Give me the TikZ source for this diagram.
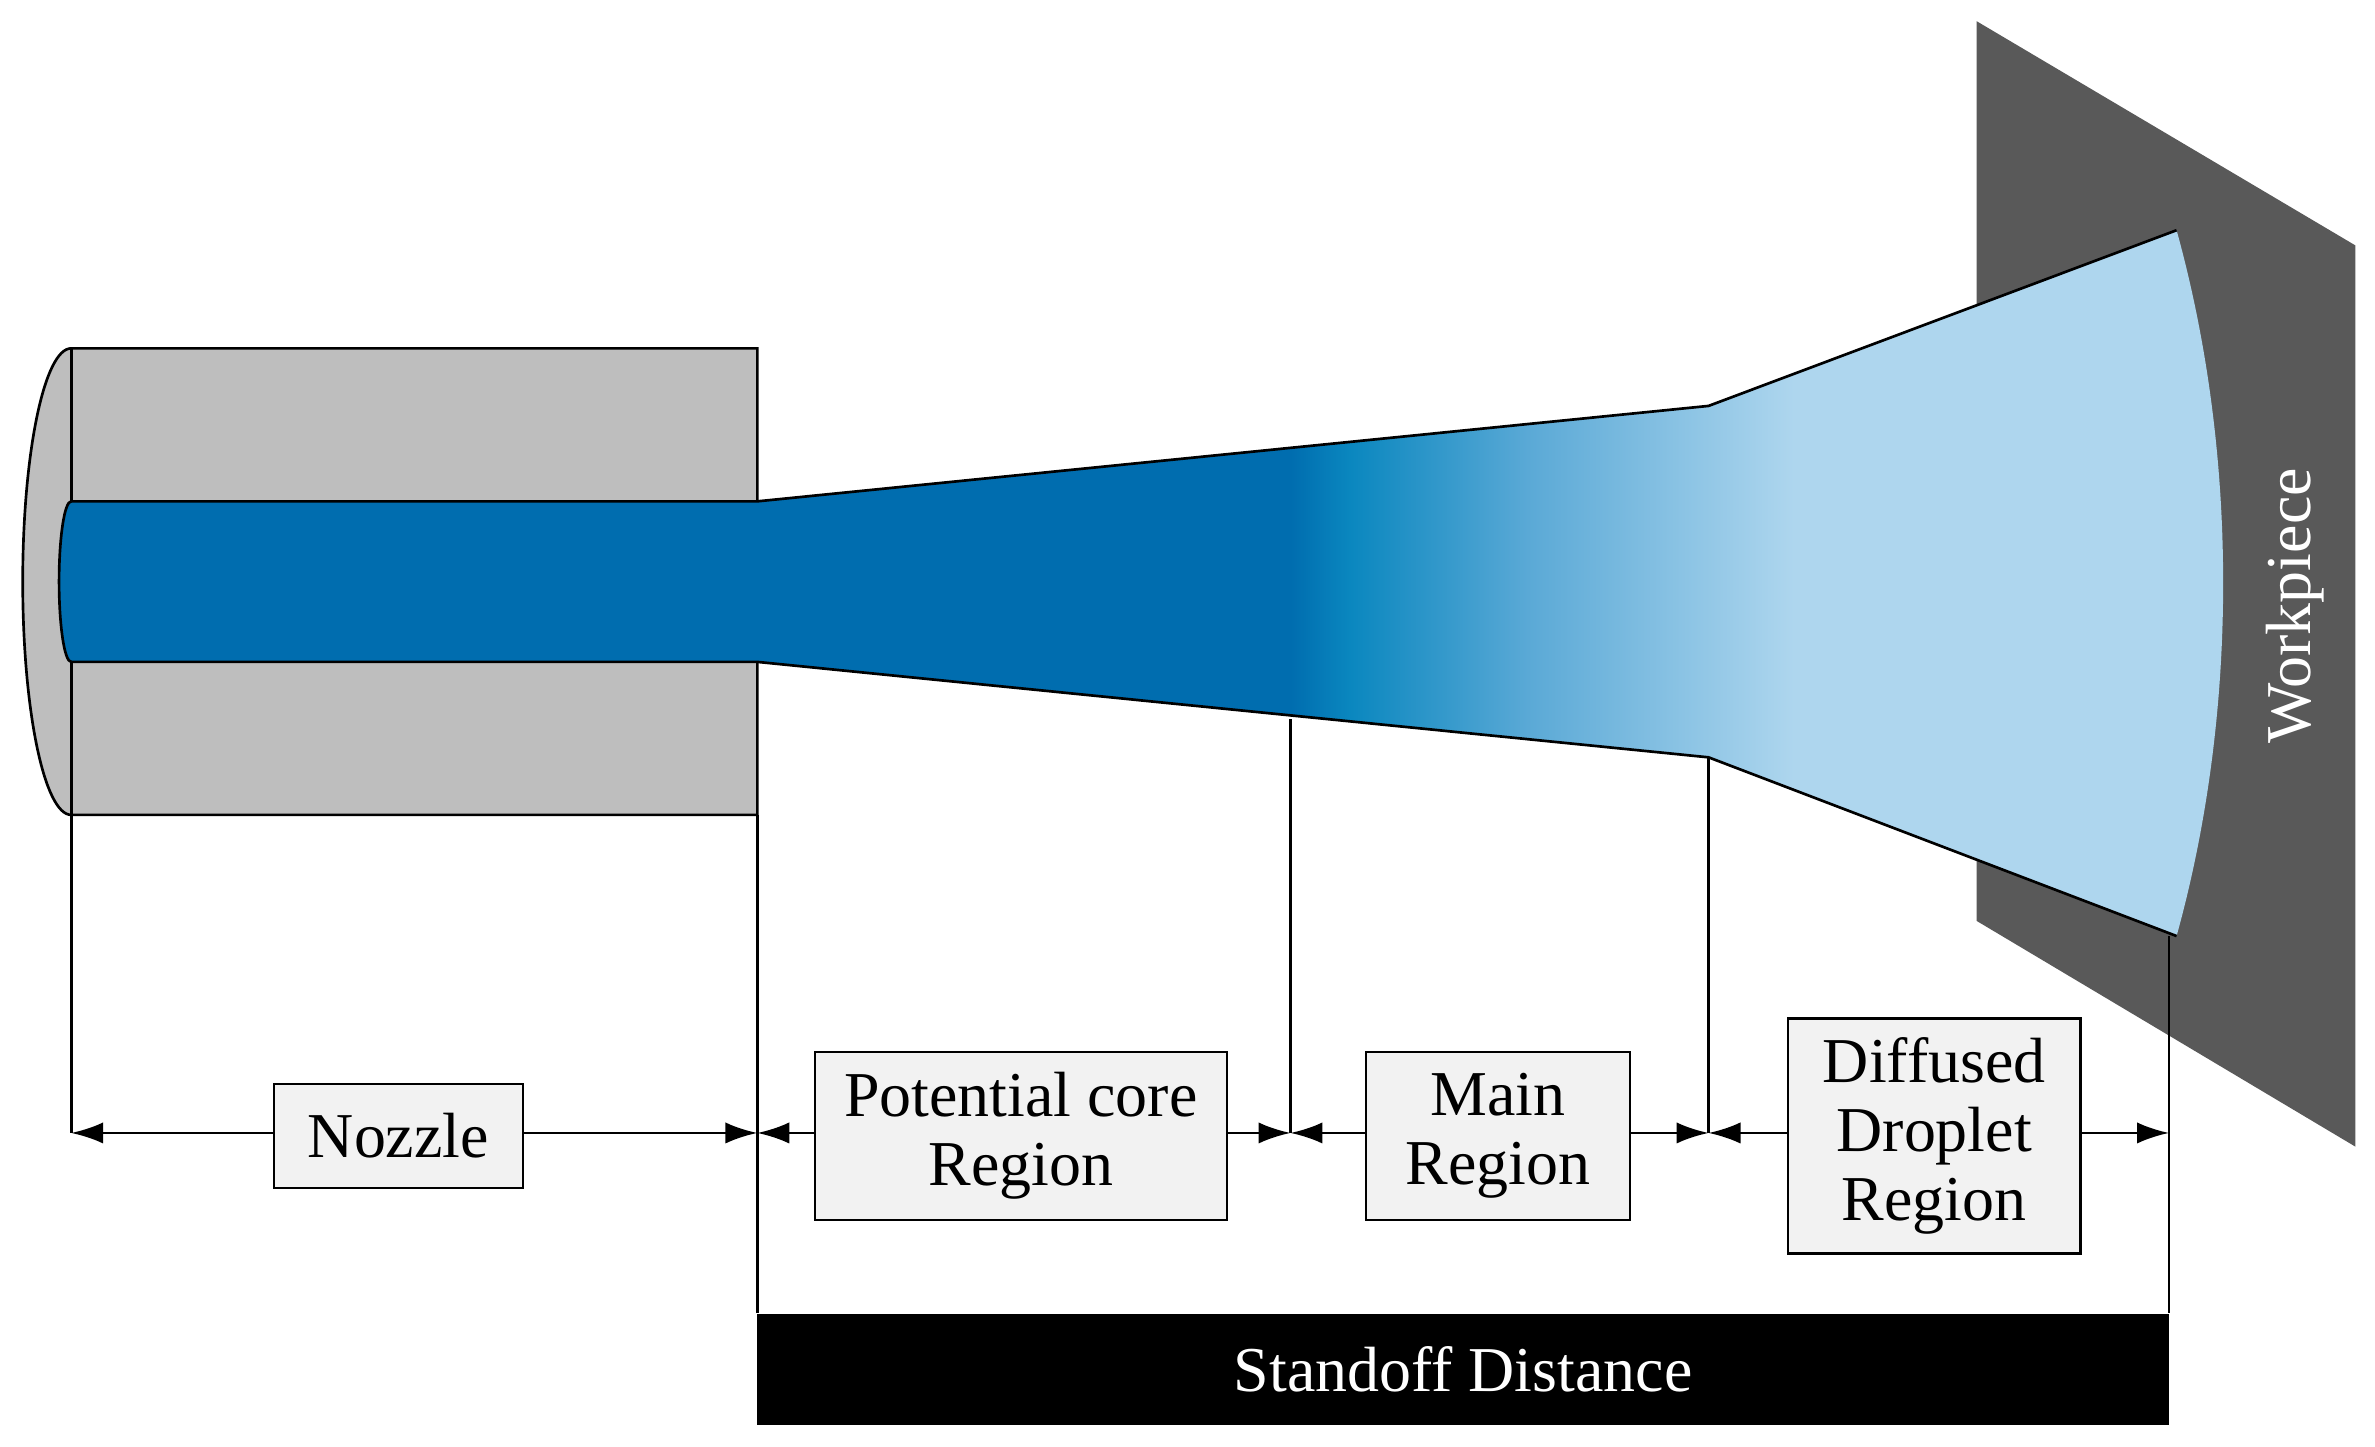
\documentclass[tikz,border=0pt]{standalone}
\usepackage{fontspec}
\setmainfont{Liberation Serif}
\usetikzlibrary{arrows.meta}
\definecolor{jd}{HTML}{006DAF}
\definecolor{jm}{HTML}{0A87BF}
\definecolor{jl1}{HTML}{5AA9D6}
\definecolor{jl}{HTML}{AED6EE}
\definecolor{boxfill}{HTML}{F2F2F2}
\definecolor{wp}{HTML}{595959}
\definecolor{noz}{HTML}{BEBEBE}
\pgfdeclarehorizontalshading{jet}{100bp}{
 color(0bp)=(jd); color(43bp)=(jd); color(45bp)=(jm); color(51bp)=(jl1); color(60bp)=(jl); color(100bp)=(jl)}
\begin{document}
\begin{tikzpicture}[x=0.01cm,y=-0.01cm,
 lbl/.style={draw,fill=boxfill,align=center,font=\fontsize{12}{13}\selectfont,inner sep=0pt},
 dim/.style={{Latex[length=6pt,width=4pt]}-{Latex[length=6pt,width=4pt]},line width=0.5pt},
 thin/.style={line width=0.5pt}]
\useasboundingbox (0,0) rectangle (1568,955);
% workpiece
\fill[wp] (1305,14) -- (1555,162) -- (1555,757) -- (1305,608) -- cycle;
\node[rotate=90,text=white,font=\fontsize{12}{13}\selectfont] (wpt) at (1515,400) {Workpiece};
% nozzle
\draw[thin,fill=noz] (47,230) arc[start angle=-90,end angle=-270,x radius=32,y radius=154] -- (500,538) -- (500,230) -- cycle;
\draw[thin] (47,230) -- (47,538);
% jet
\shade[shading=jet] (500,331) -- (1128,268) -- (1437,152) .. controls (1478,300) and (1478,470) .. (1437,618) -- (1128,500) -- (500,437) -- cycle;
\fill[jd] (47,331) rectangle (500,437);
\draw[thin] (47,331) -- (500,331) -- (1128,268) -- (1437,152);
\draw[thin] (47,437) -- (500,437) -- (1128,500) -- (1437,618);
\fill[jd] (47,331) arc[start angle=-90,end angle=-270,x radius=8,y radius=53];
\draw[thin] (47,331) arc[start angle=-90,end angle=-270,x radius=8,y radius=53];
% vertical lines
\coordinate (a0) at (47,748); \coordinate (a1) at (500,748); \coordinate (a2) at (852,748);
\coordinate (a3) at (1128,748); \coordinate (a4) at (1432,748);
\draw[thin] (47,538) -- (a0);
\draw[thin] (500,538) -- (500,867);
\draw[thin] (852,475) -- (a2);
\draw[thin] (1128,500) -- (a3);
\draw[thin] (1432,618) -- (1432,867);
% dimension arrows
\draw[dim] (a0) -- (a1);
\draw[dim] (a1) -- (a2);
\draw[dim] (a2) -- (a3);
\draw[dim] (a3) -- (a4);
% labels
\node[lbl,minimum width=1.64cm,minimum height=0.69cm] (nz) at (263,750) {Nozzle};
\node[lbl,minimum width=2.72cm,minimum height=1.11cm] (pc) at (674,750) {Potential core\\Region};
\node[lbl,minimum width=1.74cm,minimum height=1.11cm] (mr) at (989,750) {Main\\Region};
\node[lbl,minimum width=1.93cm,minimum height=1.55cm] (dd) at (1277,750) {Diffused\\Droplet\\Region};
% standoff
\node[fill=black,text=white,minimum width=9.32cm,minimum height=0.73cm,inner sep=0pt,font=\fontsize{12}{13}\selectfont] (sd) at (966,904) {Standoff Distance};
\end{tikzpicture}
\end{document}
